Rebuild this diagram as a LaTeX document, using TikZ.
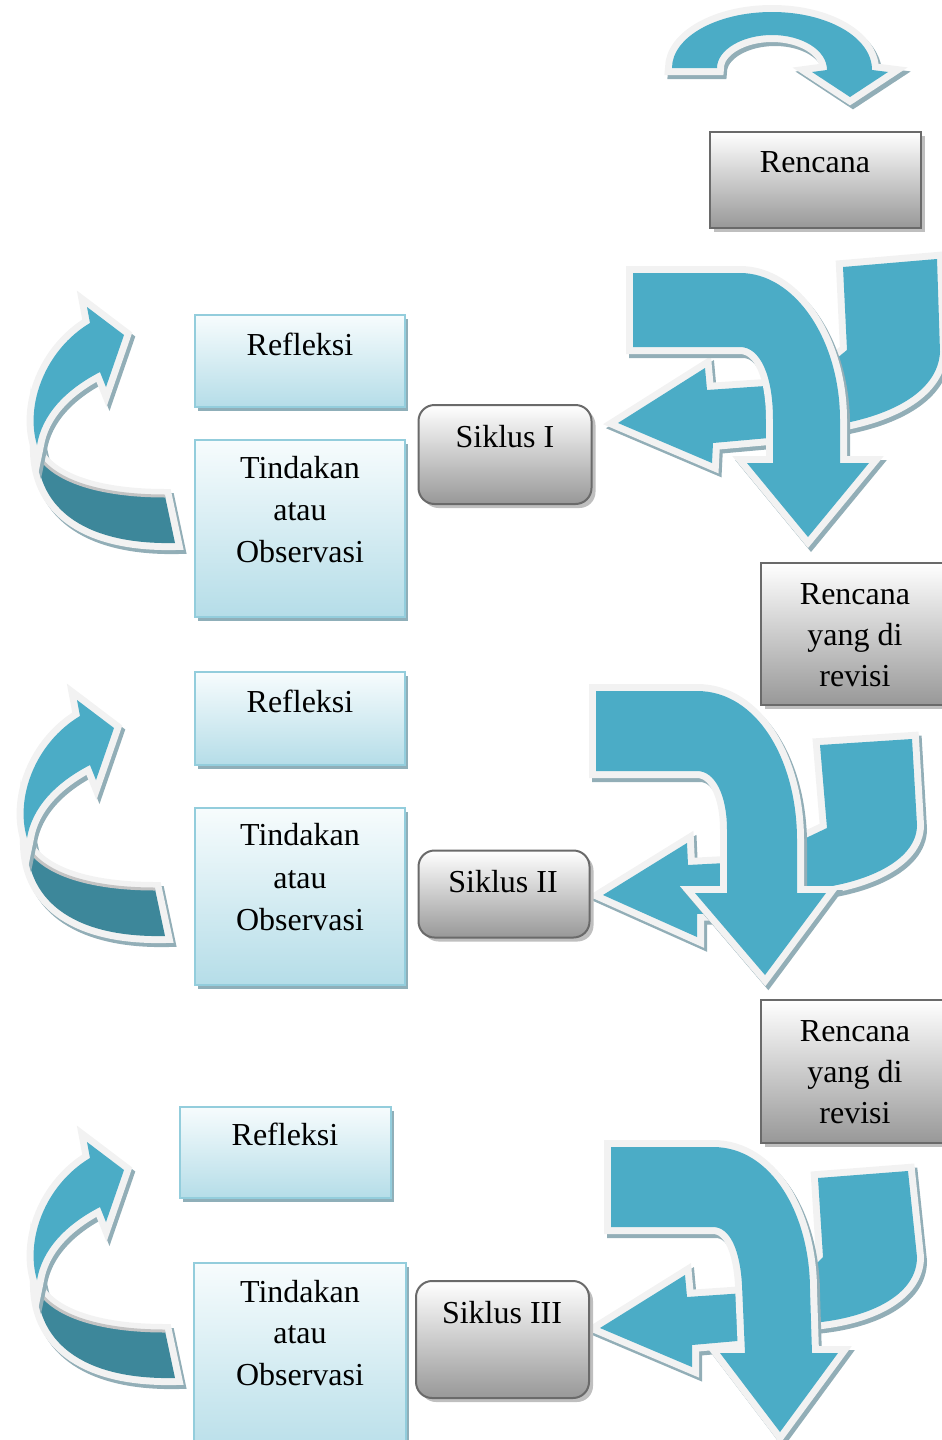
\documentclass[tikz,border=0pt]{standalone}
\usepackage{fontspec}
\setmainfont{Liberation Serif}
\usetikzlibrary{shadows}
\definecolor{arblue}{HTML}{4BACC6}
\definecolor{arwhite}{HTML}{F2F2F2}
\definecolor{arshad}{HTML}{92AEB7}
\definecolor{ardark}{HTML}{3D879A}
\definecolor{edgegray}{HTML}{C4C4C4}
\definecolor{bbtop}{HTML}{F7FCFD}
\definecolor{bbmid}{HTML}{DDF0F5}
\definecolor{bbbot}{HTML}{B5DDE8}
\definecolor{bbord}{HTML}{93CDDC}
\definecolor{bbshad}{HTML}{8FAFB9}
\definecolor{gbmid}{HTML}{E2E2E2}
\definecolor{gbbot}{HTML}{989898}
\definecolor{gbord}{HTML}{6A6A6A}
\definecolor{gbshad}{HTML}{BFBFBF}
\tikzset{
  arshadow/.style={fill=arshad, draw=arshad, line width=14pt, line join=miter},
  aroutline/.style={draw=arwhite, line width=14pt, line join=miter},
  bluebox/.style={draw=bbord, line width=2pt, top color=bbtop, middle color=bbmid, bottom color=bbbot,
     general shadow={fill=bbshad, shadow xshift=3pt, shadow yshift=-4pt}, inner sep=0pt},
  graybox/.style={draw=gbord, line width=2pt, top color=white, middle color=gbmid, bottom color=gbbot,
     general shadow={fill=gbshad, shadow xshift=4pt, shadow yshift=-4pt}, inner sep=0pt},
  roundbox/.style={graybox, rounded corners=16pt},
  lbl/.style={font=\fontsize{32}{40}\selectfont, inner sep=0pt, anchor=base},
}
\newcommand\drawarrowshape[2]{%
  \path[arshadow, shift={(3,4)}] #2;
  \path[aroutline] #2;
  \path[fill=#1] #2;}
\newcommand\curvedupshape{%
  \drawarrowshape{ardark}{(37,445) .. controls (35,505) and (80,545) .. (175,543) -- (165,496) .. controls (110,496) and (60,485) .. (40,458) -- cycle}
  \draw[draw=edgegray, line width=3pt] (40,458) .. controls (60,485) and (110,496) .. (165,496);
  \drawarrowshape{arblue}{(37,445) .. controls (25,405) and (45,350) .. (90,323) -- (87,307) -- (124,335) -- (106,387) -- (100,372) .. controls (65,390) and (42,415) .. (37,445) -- cycle}
}
\begin{document}
\begin{tikzpicture}[x=1pt,y=-1pt]
\useasboundingbox (0,0) rectangle (942,1440);
\clip (0,0) rectangle (942,1440);

% top curved arrow
\drawarrowshape{arblue}{(672,68) .. controls (672,37) and (717,12) .. (772,12) .. controls (827,12) and (872,37) .. (872,70) -- (888,72) -- (850,97) -- (812,72) -- (827,70) .. controls (827,50) and (802,35) .. (772,35) .. controls (742,35) and (717,50) .. (717,68) -- cycle}

% group 1 arrows
\drawarrowshape{arblue}{(843,267) -- (937,259) -- (940,352) .. controls (938,390) and (895,415) .. (835,425) -- (820,425) -- (820,372) -- (847,350) -- cycle}
\drawarrowshape{arblue}{(618,423) -- (705,368) -- (707,390) -- (780,385) -- (780,437) -- (713,443) -- (712,463) -- cycle}
\drawarrowshape{arblue}{(633,273) -- (740,273) .. controls (795,273) and (840,340) .. (840,420) -- (840,463) -- (869,463) -- (808,537) -- (747,463) -- (773,463) -- (773,420) .. controls (773,375) and (760,347) .. (740,347) -- (633,347) -- cycle}

% group 2 arrows
\drawarrowshape{arblue}{(820,745) -- (912,739) -- (917,825) .. controls (917,862) and (862,886) .. (800,890) -- (785,890) -- (785,848) -- (827,828) -- cycle}
\drawarrowshape{arblue}{(603,895) -- (687,843) -- (688,865) -- (745,862) -- (745,912) -- (697,914) -- (697,937) -- cycle}
\drawarrowshape{arblue}{(596,691) -- (697,691) .. controls (757,691) and (797,760) .. (797,840) -- (797,893) -- (826,893) -- (765,975) -- (695,893) -- (727,893) -- (727,830) .. controls (727,795) and (715,771) .. (697,771) -- (596,771) -- cycle}

% group 3 arrows
\drawarrowshape{arblue}{(818,1178) -- (908,1171) -- (917,1257) .. controls (917,1295) and (870,1318) .. (812,1323) -- (800,1323) -- (800,1280) -- (823,1257) -- cycle}
\drawarrowshape{arblue}{(600,1328) -- (685,1275) -- (687,1297) -- (760,1292) -- (760,1339) -- (692,1345) -- (692,1367) -- cycle}
\drawarrowshape{arblue}{(611,1147) -- (713,1147) .. controls (772,1147) and (810,1215) .. (810,1290) -- (812,1353) -- (838,1353) -- (780,1432) -- (720,1353) -- (745,1353) -- (742,1285) .. controls (740,1250) and (730,1227) .. (713,1227) -- (611,1227) -- cycle}

% left curved arrows
\curvedupshape
\begin{scope}[shift={(-10,393)}]\curvedupshape\end{scope}
\begin{scope}[shift={(0,835)}]\curvedupshape\end{scope}

% boxes
\node[graybox, minimum width=211pt, minimum height=96pt] (ren) at (815.5,180) {};
\node[lbl] (rent) at (815,172) {Rencana};

\node[bluebox, minimum width=210pt, minimum height=92pt] (ref1) at (300,361) {};
\node[lbl] (ref1t) at (300,355) {Refleksi};
\node[bluebox, minimum width=210pt, minimum height=177pt] (tin1) at (300,528.5) {};
\node[lbl] (tin1a) at (300,478) {Tindakan};
\node[lbl] (tin1b) at (300,520) {atau};
\node[lbl] (tin1c) at (300,562) {Observasi};
\node[roundbox, minimum width=173pt, minimum height=99pt] (sik1) at (505,454.5) {};
\node[lbl] (sik1t) at (505,447) {Siklus I};

\node[graybox, minimum width=194pt, minimum height=142pt] (rev1) at (858,634) {};
\node[lbl] (rev1a) at (855,604) {Rencana};
\node[lbl] (rev1b) at (855,645) {yang di};
\node[lbl] (rev1c) at (855,686) {revisi};

\node[bluebox, minimum width=210pt, minimum height=93pt] (ref2) at (300,718.5) {};
\node[lbl] (ref2t) at (300,712) {Refleksi};
\node[bluebox, minimum width=210pt, minimum height=177pt] (tin2) at (300,896.5) {};
\node[lbl] (tin2a) at (300,845) {Tindakan};
\node[lbl] (tin2b) at (300,888) {atau};
\node[lbl] (tin2c) at (300,930) {Observasi};
\node[roundbox, minimum width=171pt, minimum height=87pt] (sik2) at (504,894) {};
\node[lbl] (sik2t) at (503,892) {Siklus II};

\node[graybox, minimum width=194pt, minimum height=143pt] (rev2) at (858,1071.5) {};
\node[lbl] (rev2a) at (855,1041) {Rencana};
\node[lbl] (rev2b) at (855,1082) {yang di};
\node[lbl] (rev2c) at (855,1123) {revisi};

\node[bluebox, minimum width=211pt, minimum height=91pt] (ref3) at (285,1152) {};
\node[lbl] (ref3t) at (285,1145) {Refleksi};
\node[bluebox, minimum width=212pt, minimum height=200pt] (tin3) at (300,1363) {};
\node[lbl] (tin3a) at (300,1302) {Tindakan};
\node[lbl] (tin3b) at (300,1343) {atau};
\node[lbl] (tin3c) at (300,1385) {Observasi};
\node[roundbox, minimum width=173pt, minimum height=117pt] (sik3) at (502.5,1339.5) {};
\node[lbl] (sik3t) at (502,1323) {Siklus III};
\end{tikzpicture}
\end{document}
